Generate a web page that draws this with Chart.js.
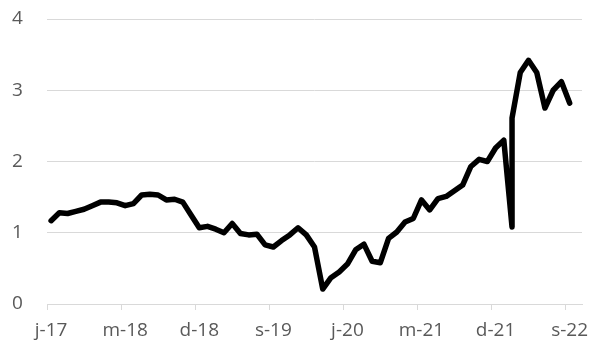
<!DOCTYPE html>
<html><head><meta charset="utf-8">
<script src="https://cdn.jsdelivr.net/npm/chart.js@4"></script>
<style>html,body{margin:0;padding:0;background:#fff}#wrap{width:602px;height:346px;position:relative}</style>
</head><body><div id="wrap"><canvas id="c" width="602" height="346"></canvas></div>
<script>
// Months (one point each; Feb 2022 has two readings)
const dates = [
 '2017-06','2017-07','2017-08','2017-09','2017-10','2017-11','2017-12',
 '2018-01','2018-02','2018-03','2018-04','2018-05','2018-06','2018-07','2018-08','2018-09','2018-10','2018-11','2018-12',
 '2019-01','2019-02','2019-03','2019-04','2019-05','2019-06','2019-07','2019-08','2019-09','2019-10','2019-11','2019-12',
 '2020-01','2020-02','2020-03','2020-04','2020-05','2020-06','2020-07','2020-08','2020-09','2020-10','2020-11','2020-12',
 '2021-01','2021-02','2021-03','2021-04','2021-05','2021-06','2021-07','2021-08','2021-09','2021-10','2021-11','2021-12',
 '2022-01','2022-02','2022-02','2022-03','2022-04','2022-05','2022-06','2022-07','2022-08','2022-09'
];
const values = [
 1.17,1.28,1.27,1.30,1.33,1.38,1.43,
 1.43,1.42,1.38,1.41,1.53,1.54,1.53,1.46,1.47,1.43,1.25,1.07,
 1.09,1.05,1.00,1.13,0.99,0.97,0.98,0.83,0.80,0.89,0.97,1.07,
 0.97,0.80,0.21,0.37,0.45,0.56,0.76,0.84,0.60,0.58,0.92,1.01,
 1.15,1.20,1.46,1.32,1.48,1.51,1.59,1.67,1.93,2.03,2.00,2.19,
 2.30,1.08,2.61,3.25,3.42,3.25,2.75,3.00,3.12,2.82
];
const tickLabels = ['j-17','m-18','d-18','s-19','j-20','m-21','d-21','s-22'];
const startYear = 2017, startMonth = 6, monthsOnAxis = 65, labelEvery = 9;

const monthIndex = d => { const [y, m] = d.split('-').map(Number); return (y - startYear) * 12 + (m - startMonth); };
const points = dates.map((d, i) => ({ x: monthIndex(d), y: values[i] }));

const FONT = { family: "'Open Sans', sans-serif", size: 19 };
const TXT = '#595959', GRID = '#d9d9d9';

new Chart(document.getElementById('c'), {
  type: 'line',
  data: { datasets: [{ data: points, borderColor: '#000', borderWidth: 5.5, pointRadius: 0,
    tension: 0, borderJoinStyle: 'round', borderCapStyle: 'round', fill: false }] },
  options: {
    responsive: false, animation: false, devicePixelRatio: 1,
    layout: { padding: { top: 19, right: 20, left: 12, bottom: 0 } },
    plugins: { legend: { display: false }, tooltip: { enabled: false } },
    scales: {
      x: {
        type: 'linear', min: -0.5, max: monthsOnAxis - 0.5,
        afterBuildTicks: s => {
          const t = [];
          tickLabels.forEach((_, k) => { t.push({ value: k * labelEvery - 0.5 }); t.push({ value: k * labelEvery }); });
          s.ticks = t;
        },
        afterFit: s => { s.height = 42; },
        ticks: { autoSkip: false, maxRotation: 0, minRotation: 0, color: TXT, font: FONT, padding: 9,
          callback: v => (Number.isInteger(v) && v % labelEvery === 0) ? tickLabels[v / labelEvery] : '' },
        grid: { drawOnChartArea: false, drawTicks: true, tickLength: 6,
          color: ctx => (ctx.tick && !Number.isInteger(ctx.tick.value)) ? GRID : 'rgba(0,0,0,0)', lineWidth: 1 },
        border: { display: true, color: GRID, width: 1 }
      },
      y: {
        min: 0, max: 4,
        afterFit: s => { s.width = 35; },
        ticks: { stepSize: 1, color: TXT, font: FONT, padding: 3, crossAlign: 'far' },
        grid: { color: GRID, lineWidth: 1, drawTicks: false },
        border: { display: false }
      }
    }
  }
});
</script>
</body></html>
